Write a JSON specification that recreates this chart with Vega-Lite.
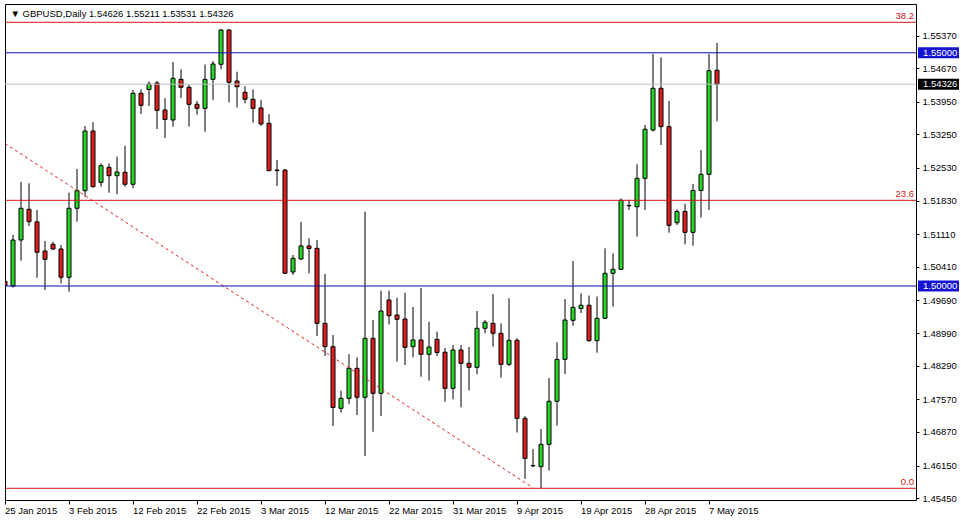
{
  "$schema": "https://vega.github.io/schema/vega-lite/v6.json",
  "width": 911,
  "height": 496,
  "autosize": "none",
  "padding": {"left": 5, "top": 4, "right": 45, "bottom": 20},
  "background": "white",
  "title": {"text": "▼ GBPUSD,Daily  1.54626 1.55211 1.53531 1.54326", "anchor": "start", "orient": "top", "offset": 0, "dx": 6, "dy": 14, "font": "Liberation Sans", "fontSize": 9.5, "fontWeight": "normal", "color": "black"},
  "datasets": {
    "candles": [
      {"d":"2015-01-25","o":1.50096,"h":1.50307,"l":1.49871,"c":1.50011},
      {"d":"2015-01-26","o":1.50000,"h":1.51094,"l":1.49968,"c":1.50986},
      {"d":"2015-01-27","o":1.50986,"h":1.52236,"l":1.50542,"c":1.51666},
      {"d":"2015-01-28","o":1.51645,"h":1.52202,"l":1.51286,"c":1.51379},
      {"d":"2015-01-29","o":1.51375,"h":1.51630,"l":1.50178,"c":1.50723},
      {"d":"2015-01-30","o":1.50750,"h":1.50965,"l":1.49914,"c":1.50572},
      {"d":"2015-02-01","o":1.50894,"h":1.50950,"l":1.50772,"c":1.50793},
      {"d":"2015-02-02","o":1.50793,"h":1.50879,"l":1.50058,"c":1.50187},
      {"d":"2015-02-03","o":1.50187,"h":1.52000,"l":1.49878,"c":1.51666},
      {"d":"2015-02-04","o":1.51666,"h":1.52509,"l":1.51379,"c":1.52043},
      {"d":"2015-02-05","o":1.52043,"h":1.53431,"l":1.51915,"c":1.53323},
      {"d":"2015-02-06","o":1.53323,"h":1.53510,"l":1.52108,"c":1.52129},
      {"d":"2015-02-08","o":1.52223,"h":1.52631,"l":1.52129,"c":1.52579},
      {"d":"2015-02-09","o":1.52545,"h":1.52631,"l":1.52000,"c":1.52365},
      {"d":"2015-02-10","o":1.52365,"h":1.52772,"l":1.51966,"c":1.52444},
      {"d":"2015-02-11","o":1.52438,"h":1.53008,"l":1.52129,"c":1.52181},
      {"d":"2015-02-12","o":1.52181,"h":1.54202,"l":1.52095,"c":1.54132},
      {"d":"2015-02-13","o":1.54132,"h":1.54217,"l":1.53688,"c":1.53874},
      {"d":"2015-02-15","o":1.54213,"h":1.54385,"l":1.53859,"c":1.54331},
      {"d":"2015-02-16","o":1.54353,"h":1.54395,"l":1.53366,"c":1.53767},
      {"d":"2015-02-17","o":1.53774,"h":1.54025,"l":1.53167,"c":1.53570},
      {"d":"2015-02-18","o":1.53559,"h":1.54803,"l":1.53416,"c":1.54453},
      {"d":"2015-02-19","o":1.54432,"h":1.54646,"l":1.54025,"c":1.54260},
      {"d":"2015-02-20","o":1.54260,"h":1.54320,"l":1.53416,"c":1.53896},
      {"d":"2015-02-22","o":1.53896,"h":1.53967,"l":1.53673,"c":1.53810},
      {"d":"2015-02-23","o":1.53810,"h":1.54749,"l":1.53308,"c":1.54432},
      {"d":"2015-02-24","o":1.54432,"h":1.54824,"l":1.53988,"c":1.54760},
      {"d":"2015-02-25","o":1.54753,"h":1.55504,"l":1.54646,"c":1.55489},
      {"d":"2015-02-26","o":1.55489,"h":1.55504,"l":1.53934,"c":1.54367},
      {"d":"2015-02-27","o":1.54395,"h":1.54595,"l":1.53827,"c":1.54273},
      {"d":"2015-03-01","o":1.54153,"h":1.54282,"l":1.53917,"c":1.54003},
      {"d":"2015-03-02","o":1.54003,"h":1.54217,"l":1.53501,"c":1.53810},
      {"d":"2015-03-03","o":1.53817,"h":1.53988,"l":1.53435,"c":1.53473},
      {"d":"2015-03-04","o":1.53488,"h":1.53684,"l":1.52466,"c":1.52472},
      {"d":"2015-03-05","o":1.52487,"h":1.52702,"l":1.52144,"c":1.52477},
      {"d":"2015-03-06","o":1.52487,"h":1.52502,"l":1.50257,"c":1.50272},
      {"d":"2015-03-08","o":1.50300,"h":1.50665,"l":1.50236,"c":1.50594},
      {"d":"2015-03-09","o":1.50579,"h":1.51379,"l":1.50557,"c":1.50858},
      {"d":"2015-03-10","o":1.50858,"h":1.51023,"l":1.50272,"c":1.50804},
      {"d":"2015-03-11","o":1.50808,"h":1.50986,"l":1.48928,"c":1.49200},
      {"d":"2015-03-12","o":1.49200,"h":1.50257,"l":1.48499,"c":1.48699},
      {"d":"2015-03-13","o":1.48699,"h":1.48949,"l":1.46998,"c":1.47395},
      {"d":"2015-03-15","o":1.47378,"h":1.47755,"l":1.47283,"c":1.47592},
      {"d":"2015-03-16","o":1.47592,"h":1.48536,"l":1.47470,"c":1.48235},
      {"d":"2015-03-17","o":1.48235,"h":1.48471,"l":1.47234,"c":1.47614},
      {"d":"2015-03-18","o":1.47614,"h":1.51593,"l":1.46355,"c":1.48879},
      {"d":"2015-03-19","o":1.48879,"h":1.49271,"l":1.46876,"c":1.47699},
      {"d":"2015-03-20","o":1.47699,"h":1.49899,"l":1.47213,"c":1.49464},
      {"d":"2015-03-22","o":1.49700,"h":1.49899,"l":1.49175,"c":1.49363},
      {"d":"2015-03-23","o":1.49378,"h":1.49749,"l":1.48377,"c":1.49286},
      {"d":"2015-03-24","o":1.49292,"h":1.49854,"l":1.48306,"c":1.48686},
      {"d":"2015-03-25","o":1.48699,"h":1.49550,"l":1.48471,"c":1.48842},
      {"d":"2015-03-26","o":1.48842,"h":1.49957,"l":1.48055,"c":1.48536},
      {"d":"2015-03-27","o":1.48536,"h":1.49235,"l":1.47970,"c":1.48692},
      {"d":"2015-03-29","o":1.48857,"h":1.49020,"l":1.48499,"c":1.48574},
      {"d":"2015-03-30","o":1.48581,"h":1.48671,"l":1.47519,"c":1.47807},
      {"d":"2015-03-31","o":1.47807,"h":1.48735,"l":1.47571,"c":1.48628},
      {"d":"2015-04-01","o":1.48628,"h":1.48735,"l":1.47399,"c":1.48343},
      {"d":"2015-04-02","o":1.48343,"h":1.48692,"l":1.47759,"c":1.48257},
      {"d":"2015-04-03","o":1.48257,"h":1.49464,"l":1.48107,"c":1.49093},
      {"d":"2015-04-05","o":1.49093,"h":1.49271,"l":1.48986,"c":1.49222},
      {"d":"2015-04-06","o":1.49200,"h":1.49833,"l":1.48699,"c":1.48986},
      {"d":"2015-04-07","o":1.48986,"h":1.49200,"l":1.48034,"c":1.48321},
      {"d":"2015-04-08","o":1.48321,"h":1.49736,"l":1.48280,"c":1.48836},
      {"d":"2015-04-09","o":1.48836,"h":1.48881,"l":1.46859,"c":1.47163},
      {"d":"2015-04-10","o":1.47163,"h":1.47213,"l":1.45866,"c":1.46306},
      {"d":"2015-04-12","o":1.46151,"h":1.46505,"l":1.46126,"c":1.46143},
      {"d":"2015-04-13","o":1.46126,"h":1.46934,"l":1.45663,"c":1.46606},
      {"d":"2015-04-14","o":1.46606,"h":1.48027,"l":1.46040,"c":1.47528},
      {"d":"2015-04-15","o":1.47528,"h":1.48795,"l":1.47005,"c":1.48428},
      {"d":"2015-04-16","o":1.48428,"h":1.49721,"l":1.48113,"c":1.49271},
      {"d":"2015-04-17","o":1.49265,"h":1.50536,"l":1.49149,"c":1.49543},
      {"d":"2015-04-19","o":1.49518,"h":1.49843,"l":1.49421,"c":1.49588},
      {"d":"2015-04-20","o":1.49588,"h":1.49796,"l":1.48806,"c":1.48827},
      {"d":"2015-04-21","o":1.48827,"h":1.49775,"l":1.48570,"c":1.49307},
      {"d":"2015-04-22","o":1.49307,"h":1.50808,"l":1.49292,"c":1.50272},
      {"d":"2015-04-23","o":1.50272,"h":1.50701,"l":1.49556,"c":1.50358},
      {"d":"2015-04-24","o":1.50358,"h":1.51876,"l":1.50343,"c":1.51837},
      {"d":"2015-04-26","o":1.51728,"h":1.51850,"l":1.51630,"c":1.51720},
      {"d":"2015-04-27","o":1.51700,"h":1.52611,"l":1.51057,"c":1.52309},
      {"d":"2015-04-28","o":1.52309,"h":1.53452,"l":1.51630,"c":1.53362},
      {"d":"2015-04-29","o":1.53345,"h":1.54974,"l":1.53308,"c":1.54239},
      {"d":"2015-04-30","o":1.54239,"h":1.54904,"l":1.53023,"c":1.53416},
      {"d":"2015-05-01","o":1.53416,"h":1.53967,"l":1.51143,"c":1.51301},
      {"d":"2015-05-03","o":1.51357,"h":1.51645,"l":1.51308,"c":1.51597},
      {"d":"2015-05-04","o":1.51597,"h":1.51762,"l":1.50894,"c":1.51151},
      {"d":"2015-05-05","o":1.51151,"h":1.52187,"l":1.50864,"c":1.52048},
      {"d":"2015-05-06","o":1.52048,"h":1.52916,"l":1.51469,"c":1.52395},
      {"d":"2015-05-07","o":1.52395,"h":1.54974,"l":1.51630,"c":1.54616},
      {"d":"2015-05-08","o":1.54626,"h":1.55211,"l":1.53531,"c":1.54326}
    ],
    "fib": [
      {"p":1.55654,"label":"38.2"},
      {"p":1.51837,"label":"23.6"},
      {"p":1.45663,"label":"0.0"}
    ],
    "levels": [{"p":1.55},{"p":1.50}],
    "bid": [{"p":1.54326}],
    "trend": [
      {"d":"2015-01-25","p":1.53055},
      {"d":"2015-04-12","p":1.45673}
    ]
  },
  "layer": [
    {
      "data": {"name": "candles"},
      "mark": {"type": "rule", "color": "black", "strokeWidth": 1, "clip": true},
      "encoding": {
        "x": {"field": "d", "type": "ordinal", "bandPosition": 0.5, "title": null,
          "scale": {"paddingInner": 0, "paddingOuter": 0, "range": [-4, 916],
            "domain": ["2015-01-25","2015-01-26","2015-01-27","2015-01-28","2015-01-29","2015-01-30","2015-02-01","2015-02-02","2015-02-03","2015-02-04","2015-02-05","2015-02-06","2015-02-08","2015-02-09","2015-02-10","2015-02-11","2015-02-12","2015-02-13","2015-02-15","2015-02-16","2015-02-17","2015-02-18","2015-02-19","2015-02-20","2015-02-22","2015-02-23","2015-02-24","2015-02-25","2015-02-26","2015-02-27","2015-03-01","2015-03-02","2015-03-03","2015-03-04","2015-03-05","2015-03-06","2015-03-08","2015-03-09","2015-03-10","2015-03-11","2015-03-12","2015-03-13","2015-03-15","2015-03-16","2015-03-17","2015-03-18","2015-03-19","2015-03-20","2015-03-22","2015-03-23","2015-03-24","2015-03-25","2015-03-26","2015-03-27","2015-03-29","2015-03-30","2015-03-31","2015-04-01","2015-04-02","2015-04-03","2015-04-05","2015-04-06","2015-04-07","2015-04-08","2015-04-09","2015-04-10","2015-04-12","2015-04-13","2015-04-14","2015-04-15","2015-04-16","2015-04-17","2015-04-19","2015-04-20","2015-04-21","2015-04-22","2015-04-23","2015-04-24","2015-04-26","2015-04-27","2015-04-28","2015-04-29","2015-04-30","2015-05-01","2015-05-03","2015-05-04","2015-05-05","2015-05-06","2015-05-07","2015-05-08","2015-05-10","2015-05-11","2015-05-12","2015-05-13","2015-05-14","2015-05-15","2015-05-17","2015-05-18","2015-05-19","2015-05-20","2015-05-21","2015-05-22","2015-05-24","2015-05-25","2015-05-26","2015-05-27","2015-05-28","2015-05-29","2015-05-31","2015-06-01","2015-06-02","2015-06-03","2015-06-04","2015-06-05","2015-06-07"]},
          "axis": {"orient": "bottom", "values": ["2015-01-25","2015-02-03","2015-02-12","2015-02-22","2015-03-03","2015-03-12","2015-03-22","2015-03-31","2015-04-09","2015-04-19","2015-04-28","2015-05-07"],
            "labelExpr": "utcFormat(toDate(datum.value), '%-d %b %Y')", "labelAlign": "left", "labelAngle": 0, "labelPadding": 1, "tickSize": 4, "labelFlush": false, "labelOverlap": false, "labelBound": false, "domain": false, "grid": false, "labelFont": "Liberation Sans", "labelFontSize": 9.5, "labelColor": "black", "tickColor": "black"}},
        "y": {"field": "l", "type": "quantitative", "title": null,
          "scale": {"domain": [1.45412, 1.56046], "nice": false, "zero": false},
          "axis": {"orient": "right", "values": [1.5537, 1.5467, 1.5395, 1.5325, 1.5253, 1.5183, 1.5111, 1.5041, 1.4969, 1.4899, 1.4829, 1.4757, 1.4687, 1.4615, 1.4545],
            "tickCount": 30, "format": ".5f", "tickSize": 3, "labelPadding": 3, "labelOverlap": false, "labelFlush": false, "labelBound": false, "domain": false, "grid": false, "labelFont": "Liberation Sans", "labelFontSize": 9.5, "labelColor": "black", "tickColor": "black"}},
        "y2": {"field": "h"}
      }
    },
    {
      "data": {"name": "candles"},
      "mark": {"type": "bar", "size": 4, "stroke": "black", "strokeWidth": 1, "clip": true},
      "encoding": {
        "x": {"field": "d", "type": "ordinal"},
        "y": {"field": "o", "type": "quantitative"},
        "y2": {"field": "c"},
        "fill": {"condition": {"test": "datum.c < datum.o", "value": "#DD1F1F"}, "value": "#27D827"}
      }
    },
    {
      "data": {"name": "trend"},
      "mark": {"type": "line", "color": "#E02020", "strokeWidth": 1, "strokeDash": [3, 3], "clip": true},
      "encoding": {
        "x": {"field": "d", "type": "ordinal", "bandPosition": 0.5},
        "y": {"field": "p", "type": "quantitative"}
      }
    },
    {
      "data": {"name": "fib"},
      "mark": {"type": "rule", "color": "#D41414", "strokeWidth": 1},
      "encoding": {"y": {"field": "p", "type": "quantitative"}}
    },
    {
      "data": {"name": "levels"},
      "mark": {"type": "rule", "color": "#0C0CB4", "strokeWidth": 1},
      "encoding": {"y": {"field": "p", "type": "quantitative"}}
    },
    {
      "data": {"name": "bid"},
      "mark": {"type": "rule", "color": "#C0C0C0", "strokeWidth": 1},
      "encoding": {"y": {"field": "p", "type": "quantitative"}}
    },
    {
      "data": {"name": "fib"},
      "mark": {"type": "text", "color": "#D41414", "align": "right", "baseline": "bottom", "dx": -2, "dy": -1, "font": "Liberation Sans", "fontSize": 9.5},
      "encoding": {
        "x": {"value": "width"},
        "y": {"field": "p", "type": "quantitative"},
        "text": {"field": "label"}
      }
    },
    {
      "data": {"name": "levels"},
      "mark": {"type": "rule", "color": "#1414D2", "strokeWidth": 11},
      "encoding": {
        "x": {"value": {"expr": "width + 2"}},
        "x2": {"value": {"expr": "width + 43"}},
        "y": {"field": "p", "type": "quantitative"}
      }
    },
    {
      "data": {"name": "bid"},
      "mark": {"type": "rule", "color": "black", "strokeWidth": 11},
      "encoding": {
        "x": {"value": {"expr": "width + 2"}},
        "x2": {"value": {"expr": "width + 43"}},
        "y": {"field": "p", "type": "quantitative"}
      }
    },
    {
      "data": {"name": "levels"},
      "mark": {"type": "text", "color": "white", "align": "left", "baseline": "middle", "font": "Liberation Sans", "fontSize": 9.5},
      "encoding": {
        "x": {"value": {"expr": "width + 7"}},
        "y": {"field": "p", "type": "quantitative"},
        "text": {"field": "p", "type": "quantitative", "format": ".5f"}
      }
    },
    {
      "data": {"name": "bid"},
      "mark": {"type": "text", "color": "white", "align": "left", "baseline": "middle", "font": "Liberation Sans", "fontSize": 9.5},
      "encoding": {
        "x": {"value": {"expr": "width + 7"}},
        "y": {"field": "p", "type": "quantitative"},
        "text": {"field": "p", "type": "quantitative", "format": ".5f"}
      }
    }
  ],
  "config": {
    "view": {"stroke": "black", "strokeWidth": 1},
    "font": "Liberation Sans"
  }
}
